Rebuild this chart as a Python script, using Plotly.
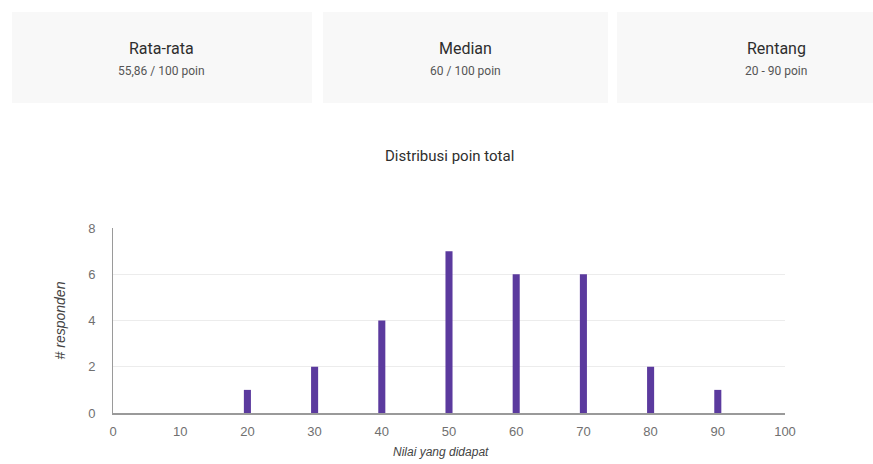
import plotly.graph_objects as go

# Summary cards
card_titles = ["Rata-rata", "Median", "Rentang"]
card_values = ["55,86 / 100 poin", "60 / 100 poin", "20 - 90 poin"]

# Score distribution
scores = [20, 30, 40, 50, 60, 70, 80, 90]
respondents = [1, 2, 4, 7, 6, 6, 2, 1]
x_ticks = [0, 10, 20, 30, 40, 50, 60, 70, 80, 90, 100]
y_ticks = [0, 2, 4, 6, 8]

W, H = 873, 464
L, R, T, B = 113, 88, 228, 51
pw, ph = W - L - R, H - T - B


def px(x):
    return (x - L) / pw


def py(y):
    return (H - B - y) / ph


fig = go.Figure()
fig.add_trace(go.Bar(
    x=scores, y=respondents, width=1.05,
    marker=dict(color="#5b3a9e", line=dict(width=0)),
    hoverinfo="x+y",
))

shapes = []
annotations = []
cards = [(12, 312, 161), (323, 608, 465), (617, 940, 776)]
for (x0, x1, cx), title, val in zip(cards, card_titles, card_values):
    shapes.append(dict(type="rect", xref="paper", yref="paper",
                       x0=px(x0), x1=px(x1), y0=py(103), y1=py(12),
                       fillcolor="#f8f8f8", line=dict(width=0), layer="below"))
    annotations.append(dict(xref="paper", yref="paper", x=px(cx), y=py(48),
                            xanchor="center", yanchor="middle",
                            text=title, showarrow=False,
                            font=dict(family="Roboto", size=16, color="#2e2e2e")))
    annotations.append(dict(xref="paper", yref="paper", x=px(cx), y=py(71),
                            xanchor="center", yanchor="middle",
                            text=val, showarrow=False,
                            font=dict(family="Roboto", size=12, color="#555555")))

annotations.append(dict(xref="paper", yref="paper", x=px(449), y=py(156),
                        xanchor="center", yanchor="middle",
                        text="Distribusi poin total", showarrow=False,
                        font=dict(family="Roboto", size=15, color="#2e2e2e")))

annotations.append(dict(xref="paper", yref="paper", x=px(441), y=py(452),
                        xanchor="center", yanchor="middle",
                        text="<i>Nilai yang didapat</i>", showarrow=False,
                        font=dict(family="Liberation Sans, Arial", size=12,
                                  color="#444444")))

fig.update_layout(
    width=W, height=H,
    margin=dict(l=L, r=R, t=T, b=B, pad=0),
    paper_bgcolor="white", plot_bgcolor="white",
    showlegend=False,
    shapes=shapes, annotations=annotations,
    font=dict(family="Liberation Sans, Arial", size=13, color="#707070"),
    xaxis=dict(
        range=[0, 100], tickvals=x_ticks, ticktext=[str(v) for v in x_ticks],
        showgrid=False, zeroline=False,
        showline=True, linecolor="#9a9a9a", linewidth=2,
        ticklabelstandoff=5,
    ),
    yaxis=dict(
        range=[0, 8], tickvals=y_ticks,
        showgrid=True, gridcolor="#ececec", gridwidth=1,
        zeroline=False,
        showline=True, linecolor="#9a9a9a", linewidth=1,
        ticklabelstandoff=14,
        title=dict(text="<i># responden</i>", standoff=19,
                   font=dict(size=14, color="#444444")),
    ),
)

fig.write_html("out.html")
